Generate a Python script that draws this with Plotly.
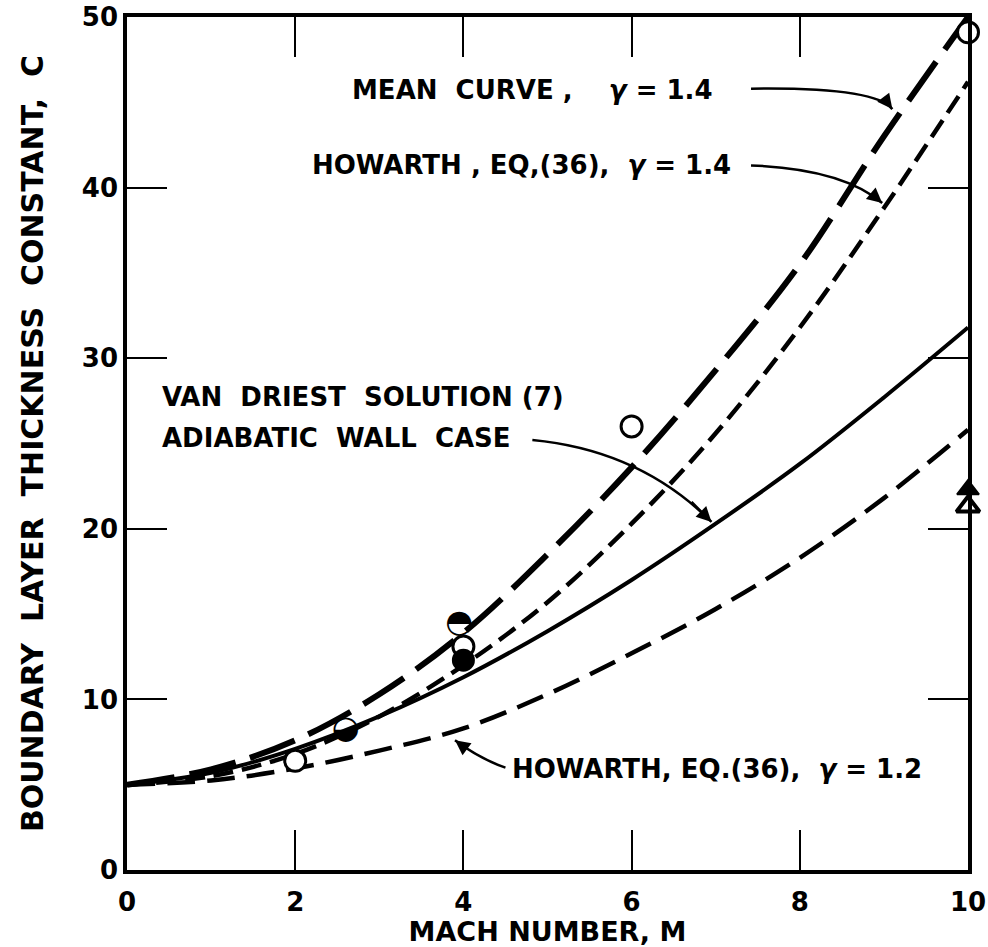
import plotly.graph_objects as go

# ---- data ----
mach = [0, 1, 2, 3, 4, 5, 6, 7, 8, 9, 10]
mean_curve = [5.0, 5.9, 7.6, 10.3, 13.9, 18.5, 23.6, 29.3, 35.5, 43.0, 50.0]
howarth_14 = [5.0, 5.5, 6.8, 9.0, 12.0, 15.7, 20.3, 25.6, 31.8, 38.8, 46.2]
van_driest = [5.0, 5.7, 7.1, 9.0, 11.3, 14.0, 17.0, 20.3, 23.8, 27.7, 31.8]
howarth_12 = [5.0, 5.25, 5.95, 7.0, 8.3, 10.3, 12.7, 15.3, 18.3, 21.8, 25.8]

open_m = [2.0, 4.0, 6.0, 10.0]
open_c = [6.4, 13.1, 26.0, 49.1]
filled_m = [4.0]
filled_c = [12.3]
top_half_m = [3.95]
top_half_c = [14.4]
bottom_half_m = [2.6]
bottom_half_c = [8.2]
tri_filled_m = [10.0]
tri_filled_c = [22.3]
tri_open_m = [10.0]
tri_open_c = [21.3]

x_ticks = [0, 2, 4, 6, 8, 10]
y_ticks = [0, 10, 20, 30, 40, 50]

FONT = "DejaVu Sans"
S = "\u00a0"  # non-breaking space for wide lettering gaps

fig = go.Figure()

fig.add_trace(go.Scatter(x=mach, y=mean_curve, mode="lines",
                         line=dict(color="black", width=6, dash="48px,15px", shape="spline")))
fig.add_trace(go.Scatter(x=mach, y=howarth_14, mode="lines",
                         line=dict(color="black", width=4.5, dash="20px,9px", shape="spline")))
fig.add_trace(go.Scatter(x=mach, y=van_driest, mode="lines",
                         line=dict(color="black", width=4, shape="spline")))
fig.add_trace(go.Scatter(x=mach, y=howarth_12, mode="lines",
                         line=dict(color="black", width=4.5, dash="28px,12px", shape="spline")))

fig.add_trace(go.Scatter(x=open_m, y=open_c, mode="markers", cliponaxis=False,
                         marker=dict(symbol="circle", size=21, color="white",
                                     line=dict(color="black", width=3))))
fig.add_trace(go.Scatter(x=filled_m, y=filled_c, mode="markers", cliponaxis=False,
                         marker=dict(symbol="circle", size=21, color="black",
                                     line=dict(color="black", width=2))))
fig.add_trace(go.Scatter(x=top_half_m, y=top_half_c, mode="text", text=["\u25D3"] * len(top_half_m),
                         textposition="middle center", cliponaxis=False,
                         textfont=dict(family=FONT, size=32, color="black")))
fig.add_trace(go.Scatter(x=bottom_half_m, y=bottom_half_c, mode="text", text=["\u25D2"] * len(bottom_half_m),
                         textposition="middle center", cliponaxis=False,
                         textfont=dict(family=FONT, size=32, color="black")))
fig.add_trace(go.Scatter(x=tri_open_m, y=tri_open_c, mode="markers", cliponaxis=False,
                         marker=dict(symbol="triangle-up", size=20, color="white",
                                     line=dict(color="black", width=4))))
fig.add_trace(go.Scatter(x=tri_filled_m, y=tri_filled_c, mode="markers", cliponaxis=False,
                         marker=dict(symbol="triangle-up", size=19, color="black",
                                     line=dict(color="black", width=2))))

afont = dict(family=FONT, size=26, color="black", weight="bold")
annotations = [
    dict(x=2.65, y=45.7, text=f"MEAN{S}{S}CURVE{S},{S}{S}{S}{S}<i>γ</i>{S}={S}1.4", xanchor="left"),
    dict(x=2.17, y=41.3, text=f"HOWARTH{S},{S}EQ,(36),{S}{S}<i>γ</i>{S}={S}1.4", xanchor="left"),
    dict(x=0.39, y=27.7, text=f"VAN{S}{S}DRIEST{S}{S}SOLUTION{S}(7)", xanchor="left"),
    dict(x=0.39, y=25.3, text=f"ADIABATIC{S}{S}WALL{S}{S}CASE", xanchor="left"),
    dict(x=4.55, y=5.9, text=f"HOWARTH,{S}EQ.(36),{S}{S}<i>γ</i>{S}={S}1.2", xanchor="left"),
]
for a in annotations:
    a.update(xref="x", yref="y", showarrow=False, font=afont, yanchor="middle")

# curved leader lines (quadratic paths in data coordinates) + arrowheads
leaders = [
    ((7.42, 45.8), (8.9, 45.9), (9.1, 44.6)),
    ((7.42, 41.3), (8.5, 41.1), (8.98, 39.1)),
    ((4.82, 25.2), (6.1, 24.6), (6.95, 20.4)),
    ((4.5, 6.0), (4.2, 6.5), (3.9, 7.6)),
]
shapes = []
for (x0, y0), (cx, cy), (x1, y1) in leaders:
    shapes.append(dict(type="path", xref="x", yref="y",
                       path=f"M {x0},{y0} Q {cx},{cy} {x1},{y1}",
                       line=dict(color="black", width=2.5)))
    annotations.append(dict(x=x1, y=y1, ax=cx * 0.3 + x1 * 0.7, ay=cy * 0.3 + y1 * 0.7,
                            xref="x", yref="y", axref="x", ayref="y",
                            text="", showarrow=True, arrowhead=2, arrowsize=1.2,
                            arrowwidth=2.5, arrowcolor="black"))

tfont = dict(family=FONT, size=26, color="black", weight="bold")
G = S * 2
ytitle = f"BOUNDARY{G}LAYER{G}THICKNESS{G}CONSTANT,{G}C"
fig.update_layout(
    width=988, height=947,
    margin=dict(l=127, r=20, t=17, b=77),
    paper_bgcolor="white", plot_bgcolor="white",
    showlegend=False,
    annotations=annotations,
    shapes=shapes,
    xaxis=dict(range=[0, 10], tickvals=x_ticks, ticktext=[str(v) for v in x_ticks],
               ticks="inside", ticklen=40, tickwidth=2, tickcolor="black",
               showline=True, linewidth=3.5, linecolor="black", mirror="ticks",
               showgrid=False, zeroline=False, tickfont=tfont, automargin=False,
               ticklabelstandoff=6,
               title=dict(text=f"MACH{S}NUMBER,{S}M",
                          font=dict(family=FONT, size=27, color="black", weight="bold"),
                          standoff=2)),
    yaxis=dict(range=[0, 50], tickvals=y_ticks, ticktext=[str(v) for v in y_ticks],
               ticks="inside", ticklen=40, tickwidth=2, tickcolor="black",
               showline=True, linewidth=3.5, linecolor="black", mirror="ticks",
               showgrid=False, zeroline=False, tickfont=tfont, automargin=False,
               title=dict(text=ytitle,
                          font=dict(family=FONT, size=30, color="black", weight="bold"),
                          standoff=30)),
)

fig.write_html("out.html")
